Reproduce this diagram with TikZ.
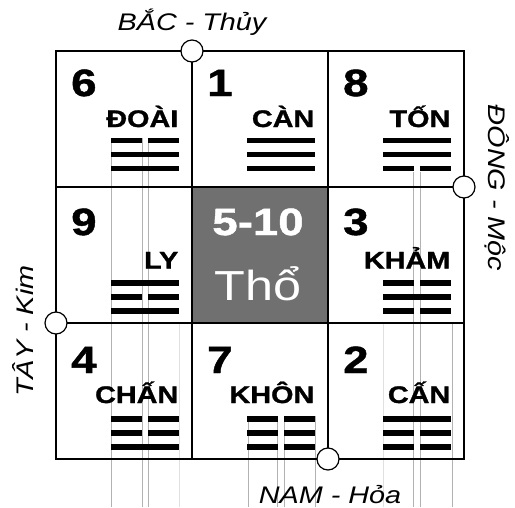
\documentclass[tikz,border=0pt]{standalone}
\usepackage{fontspec}
\setmainfont{Liberation Sans}[FakeStretch=1.2, BoldFeatures={FakeBold=1.2}]
\usetikzlibrary{positioning}

\begin{document}
\begin{tikzpicture}[x=1pt, y=-1pt,
  cell/.style={draw, line width=1.6pt, minimum size=136pt, inner sep=0pt, outer sep=0pt},
  num/.style={font=\fontsize{38}{40}\selectfont\bfseries, anchor=base west, inner sep=0pt},
  gua/.style={font=\fontsize{24}{26}\selectfont\bfseries, anchor=base east, inner sep=0pt},
  dirlbl/.style={font=\fontsize{24}{26}\selectfont\itshape, anchor=base, inner sep=0pt},
  port/.style={circle, draw, fill=white, line width=1.2pt, minimum size=22pt, inner sep=0pt},
  guide/.style={black!30, line width=0.6pt}]
  \colorlet{earth}{black!56}
  \useasboundingbox (0,0) rectangle (515,507);

  % ghost guide lines
  \foreach \x/\y in {111/138, 142/138, 148/138, 413/172, 420/172,
                     248/416, 277/416, 284/416, 315/416, 452/324} {
    \draw[guide] (\x,\y) -- (\x,507);
  }
  \foreach \x in {179, 383} {
    \draw[black!12, line width=0.5pt] (\x,324) -- (\x,507);
  }

  % grid of cells
  \foreach \c in {0,1,2} {
    \foreach \r in {0,1,2} {
      \node[cell] (cell\c\r) at ({124+136*\c},{119+136*\r}) {};
    }
  }
  \node[cell, fill=earth] (center) at (cell11) {};
  \node[font=\fontsize{38}{40}\selectfont\bfseries, text=white, anchor=base, inner sep=0pt]
    (fiveten) at (258,235) {5-10};
  \node[font=\fontsize{42}{44}\selectfont, text=white, anchor=base, inner sep=0pt]
    (tho) at (258,300) {Thổ};

  % numbers, names and trigrams
  \foreach \c/\r/\n/\name/\a/\b/\d in {0/0/6/ĐOÀI/0/1/1, 1/0/1/CÀN/1/1/1, 2/0/8/TỐN/1/1/0,
      0/1/9/LY/1/0/1, 2/1/3/KHẢM/0/1/0,
      0/2/4/CHẤN/0/0/1, 1/2/7/KHÔN/0/0/0, 2/2/2/CẤN/1/0/0} {
    \pgfmathsetmacro\L{111+136*\c}
    \pgfmathsetmacro\yd{{96,235,373}[\r]}
    \pgfmathsetmacro\yn{{127,268.5,403}[\r]}
    \pgfmathsetmacro\yb{{140.5,283,419}[\r]}
    \node[num] (num\c\r) at ({\L-40},\yd) {\n};
    \node[gua] (name\c\r) at ({\L+67.5},\yn) {\name};
    \foreach \bit [count=\k from 0] in {\a,\b,\d} {
      \pgfmathsetmacro\yy{\yb+14*\k-2.75}
      \ifnum\bit=1
        \fill (\L,\yy) rectangle ++(68,5.5);
      \else
        \fill (\L,\yy) rectangle ++(31,5.5);
        \fill ({\L+37},\yy) rectangle ++(31,5.5);
      \fi
    }
  }

  % the four directions
  \node[port] (north) at (cell10.north west) {};
  \node[port] (east) at (cell20.south east) {};
  \node[port] (west) at (cell01.south west) {};
  \node[port] (south) at (cell12.south east) {};
  \node[dirlbl] (bac) at (192,30) {BẮC - Thủy};
  \node[dirlbl] (nam) at (330,503) {NAM - Hỏa};
  \node[dirlbl, rotate=90] (tay) at (33,331) {TÂY - Kim};
  \node[dirlbl, rotate=-90] (dong) at (488,188) {ĐÔNG - Mộc};
\end{tikzpicture}
\end{document}
